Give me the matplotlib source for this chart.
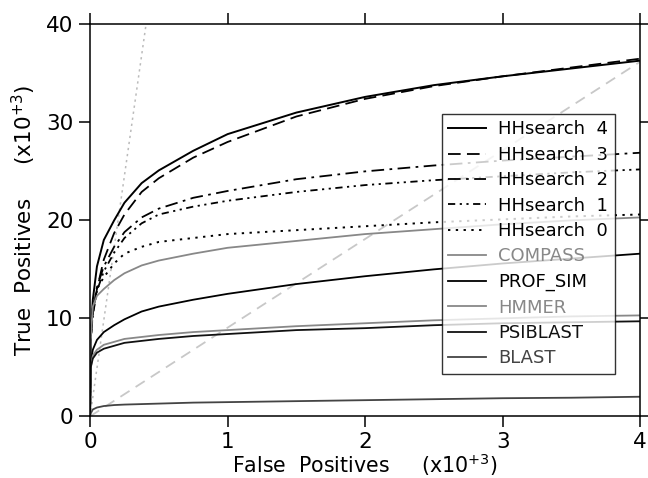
import numpy as np
import matplotlib.pyplot as plt

plt.rcParams['font.family'] = ['DejaVu Sans']

# false positives (x10^3) at which the curves were read
fp = [0, 0.005, 0.02, 0.05, 0.1, 0.175, 0.25, 0.375, 0.5, 0.75, 1, 1.5, 2, 2.5, 3, 3.5, 4]

# true positives (x10^3)
hh4 = [0.5, 8.5, 11.9, 15.3, 18.0, 20.0, 21.8, 23.8, 25.1, 27.1, 28.8, 31.0, 32.6, 33.8, 34.7, 35.5, 36.3]
hh3 = [0.5, 8.0, 10.5, 13.0, 16.0, 18.7, 20.6, 22.9, 24.3, 26.4, 28.0, 30.6, 32.4, 33.7, 34.7, 35.6, 36.5]
hh2 = [0.5, 8.0, 10.5, 13.2, 15.3, 17.3, 18.8, 20.3, 21.2, 22.3, 23.0, 24.2, 25.0, 25.6, 26.1, 26.5, 26.9]
hh1 = [0.5, 8.0, 10.3, 12.8, 14.8, 16.7, 18.2, 19.7, 20.6, 21.4, 22.0, 22.9, 23.6, 24.1, 24.5, 24.9, 25.2]
hh0 = [0.5, 8.0, 11.0, 13.0, 14.2, 15.6, 16.6, 17.3, 17.8, 18.2, 18.6, 19.0, 19.4, 19.8, 20.1, 20.4, 20.6]
compass = [0.5, 8.0, 11.2, 12.3, 13.0, 13.9, 14.6, 15.4, 15.9, 16.6, 17.2, 17.9, 18.6, 19.1, 19.6, 20.0, 20.3]
prof_sim = [0.5, 5.5, 6.8, 7.8, 8.6, 9.3, 9.9, 10.7, 11.2, 11.9, 12.5, 13.5, 14.3, 15.0, 15.6, 16.1, 16.6]
hmmer = [0.5, 5.0, 6.2, 6.8, 7.3, 7.6, 7.9, 8.1, 8.3, 8.6, 8.8, 9.2, 9.5, 9.8, 10.0, 10.2, 10.3]
psiblast = [0.5, 5.0, 5.9, 6.5, 6.9, 7.2, 7.5, 7.7, 7.9, 8.2, 8.4, 8.8, 9.0, 9.3, 9.5, 9.6, 9.7]
blast = [0.0, 0.3, 0.7, 0.9, 1.05, 1.15, 1.2, 1.25, 1.3, 1.4, 1.45, 1.55, 1.65, 1.75, 1.85, 1.9, 2.0]

# reference diagonals
diag1_x, diag1_y = [0, 0.407], [0, 40]
diag2_x, diag2_y = [0, 4], [0, 36.2]

fig = plt.figure(figsize=(6.48, 4.78), dpi=100)
ax = fig.add_axes([0.139, 0.129, 0.849, 0.820])

ax.plot(diag1_x, diag1_y, color='#bbbbbb', lw=1.1, dashes=(1.5, 2.5))
ax.plot(diag2_x, diag2_y, color='#c8c8c8', lw=1.3, dashes=(6, 4))

ax.plot(fp, hh4, color='black', lw=1.4, label='HHsearch  4')
ax.plot(fp, hh3, color='black', lw=1.3, dashes=(7, 3.5), label='HHsearch  3')
ax.plot(fp, hh2, color='black', lw=1.3, dashes=(7, 3, 1.5, 3), label='HHsearch  2')
ax.plot(fp, hh1, color='black', lw=1.3, dashes=(4, 2.5, 1.2, 2.5, 1.2, 2.5), label='HHsearch  1')
ax.plot(fp, hh0, color='black', lw=1.4, dashes=(1.2, 2.8), label='HHsearch  0')
ax.plot(fp, compass, color='#888888', lw=1.3, label='COMPASS')
ax.plot(fp, prof_sim, color='black', lw=1.3, label='PROF_SIM')
ax.plot(fp, hmmer, color='#888888', lw=1.3, label='HMMER')
ax.plot(fp, psiblast, color='#111111', lw=1.3, label='PSIBLAST')
ax.plot(fp, blast, color='#444444', lw=1.3, label='BLAST')

ax.set_xlim(0, 4)
ax.set_ylim(0, 40)
ax.set_xticks([0, 1, 2, 3, 4])
ax.set_yticks([0, 10, 20, 30, 40])
ax.tick_params(direction='out', length=8, width=1.1, labelsize=15.5, pad=4,
               top=True, right=True, labeltop=False, labelright=False)
ax.tick_params(axis='x', pad=3)
for s in ax.spines.values():
    s.set_linewidth(1.1)

ax.set_xlabel('False  Positives     (x10$^{+3}$)', fontsize=14.8, labelpad=0)
ax.set_ylabel('True  Positives     (x10$^{+3}$)', fontsize=15.5, labelpad=6)

leg = ax.legend(loc='upper left', bbox_to_anchor=(0.639, 0.771), borderaxespad=0,
                fontsize=13, frameon=True, fancybox=False, edgecolor='black',
                handlelength=2.1, handletextpad=0.7, labelspacing=0.41,
                borderpad=0.35, labelcolor='linecolor')
leg.get_frame().set_linewidth(1.0)

fig.savefig('out.png', dpi=100)
